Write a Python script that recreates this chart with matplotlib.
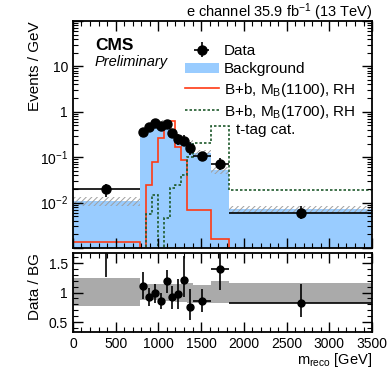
import numpy as np
import matplotlib
matplotlib.use("Agg")
import matplotlib.pyplot as plt
from matplotlib.ticker import MultipleLocator, LogLocator, NullFormatter, FixedLocator, FixedFormatter
from matplotlib.patches import Patch
from matplotlib.lines import Line2D

plt.rcParams['font.family'] = ['Liberation Sans', 'DejaVu Sans']
plt.rcParams['mathtext.default'] = 'regular'
plt.rcParams['hatch.linewidth'] = 0.7

# bin edges [GeV]
edges = [0, 780, 850, 920, 990, 1060, 1130, 1200, 1270, 1340, 1410, 1620, 1830, 3500]

# events / GeV
data = [0.0195, 0.365, 0.47, 0.575, 0.486, 0.54, 0.347, 0.255, 0.231, 0.157, 0.106, 0.071, 0.006]
bkg = [0.0106, 0.33, 0.505, 0.58, 0.56, 0.455, 0.377, 0.263, 0.19, 0.207, 0.125, 0.051, 0.0072]
sig_1100 = [0.00135, 0, 0.0245, 0.08, 0.26, 0.43, 0.64, 0.17, 0.087, 0.0069, 0.0069, 0.00155, 0]
sig_1700 = [0, 0, 0.0055, 0.0148, 0, 0.0045, 0.0205, 0.0245, 0.041, 0.1, 0.202, 0.48, 0.019]

# ratio panel
ratio = [1.84, 1.11, 0.93, 0.99, 0.865, 1.19, 0.92, 0.97, 1.22, 0.76, 0.85, 1.40, 0.83]
ratio_up = [2.4, 1.34, 1.08, 1.14, 1.0, 1.375, 1.11, 1.235, 1.62, 1.055, 1.055, 1.9, 1.15]
ratio_dn = [1.27, 0.89, 0.775, 0.83, 0.72, 1.0, 0.73, 0.72, 0.92, 0.54, 0.68, 1.045, 0.59]
band_up = [1.25, 1.14, 1.14, 1.14, 1.15, 1.15, 1.15, 1.15, 1.16, 1.16, 1.13, 1.19, 1.17]
band_dn = [0.775, 0.87, 0.87, 0.87, 0.87, 0.86, 0.86, 0.84, 0.84, 0.83, 0.82, 0.82, 0.82]

edges = np.array(edges, dtype=float)
centers = 0.5 * (edges[1:] + edges[:-1])
halfw = 0.5 * (edges[1:] - edges[:-1])
data = np.array(data)
bkg = np.array(bkg)
ratio = np.array(ratio)
r_up = np.array(ratio_up) - ratio
r_dn = ratio - np.array(ratio_dn)
d_up = data * r_up / ratio
d_dn = data * r_dn / ratio

fig = plt.figure(figsize=(3.9, 3.72), dpi=100)
ax = fig.add_axes([0.187, 0.3333, 0.767, 0.6102])
ax2 = fig.add_axes([0.187, 0.107, 0.767, 0.213])

blue = '#99ccff'
red = '#ff3a14'
green = '#1f5a2c'
ax.set_yscale('log')
ax.set_ylim(1e-3, 100)
ax.set_xlim(0, 3500)

ax.stairs(bkg, edges, baseline=1e-3, fill=True, color=blue, lw=0)
ax.stairs(bkg * np.array(band_up), edges, baseline=bkg * np.array(band_dn), fill=True,
          facecolor='none', edgecolor='#a0a0a0', hatch='//////', lw=0)
ax.stairs(sig_1100, edges, baseline=None, color=red, lw=1.2)
ax.stairs(sig_1700, edges, baseline=None, color=green, lw=1.2, linestyle=(0, (1.5, 1.2)))
ax.errorbar(centers, data, yerr=[d_dn, d_up], xerr=halfw, fmt='o', color='black',
            ms=6.5, lw=1.2, capsize=0)

# ratio panel
ax2.stairs(band_up, edges, baseline=band_dn, fill=True, color='#aaaaaa', lw=0)
ax2.errorbar(centers, ratio, yerr=[r_dn, r_up], xerr=halfw, fmt='o', color='black',
             ms=5, lw=1.2, capsize=0)
ax2.set_xlim(0, 3500)
ax2.set_ylim(0.33, 1.67)

for a in (ax, ax2):
    a.tick_params(which='both', direction='in', top=True, right=True, labelsize=10)
    a.tick_params(which='major', length=7, width=1)
    a.tick_params(which='minor', length=3.5, width=0.8)
    a.xaxis.set_major_locator(MultipleLocator(500))
    a.xaxis.set_minor_locator(MultipleLocator(100))
    for s in a.spines.values():
        s.set_linewidth(1.3)

ax.tick_params(labelbottom=False)
ax.yaxis.set_major_locator(FixedLocator([1e-3, 1e-2, 1e-1, 1, 10, 100]))
ax.yaxis.set_major_formatter(FixedFormatter(['', '$10^{-2}$', '$10^{-1}$', '1', '10', '']))
ax.yaxis.set_minor_locator(LogLocator(base=10, subs=np.arange(2, 10)))
ax.yaxis.set_minor_formatter(NullFormatter())

ax2.yaxis.set_major_locator(FixedLocator([0.5, 1, 1.5]))
ax2.yaxis.set_major_formatter(FixedFormatter(['0.5', '1', '1.5']))
ax2.yaxis.set_minor_locator(MultipleLocator(0.1))

ax.set_ylabel('Events / GeV', fontsize=11, loc='top')
ax.yaxis.set_label_coords(-0.105, 1.0)
ax2.set_ylabel('Data / BG', fontsize=11, loc='top')
ax2.yaxis.set_label_coords(-0.105, 1.0)
ax2.set_xlabel('m$_{reco}$ [GeV]', fontsize=10.5, loc='right', labelpad=0)

fig.text(0.954, 1 - 12 / 372, 'e channel 35.9 fb$^{-1}$ (13 TeV)', ha='right', va='center', fontsize=10.5)
fig.text(95 / 390, 1 - 45 / 372, 'CMS', ha='left', va='center', fontsize=12.5, fontweight='bold')
fig.text(95 / 390, 1 - 62 / 372, 'Preliminary', ha='left', va='center', fontsize=10.5, style='italic')

h_data = ax.errorbar([], [], yerr=[], xerr=[], fmt='o', color='black', ms=6.5, lw=1.2)
handles = [h_data,
           Patch(facecolor=blue, edgecolor='none'),
           Line2D([], [], color=red, lw=1.2),
           Line2D([], [], color=green, lw=1.2, linestyle=(0, (1.5, 1.2)))]
labels = ['Data', 'Background', 'B+b, M$_{B}$(1100), RH', 'B+b, M$_{B}$(1700), RH']
fig.legend(handles, labels, loc='upper left', bbox_to_anchor=(185 / 390, 1 - 44 / 372),
           frameon=False, fontsize=11, borderpad=0, borderaxespad=0, handlelength=2.2,
           handletextpad=0.35, labelspacing=0.28)
fig.text(236 / 390, 1 - 130 / 372, 't-tag cat.', ha='left', va='center', fontsize=11)

fig.savefig('out.png', dpi=100)
